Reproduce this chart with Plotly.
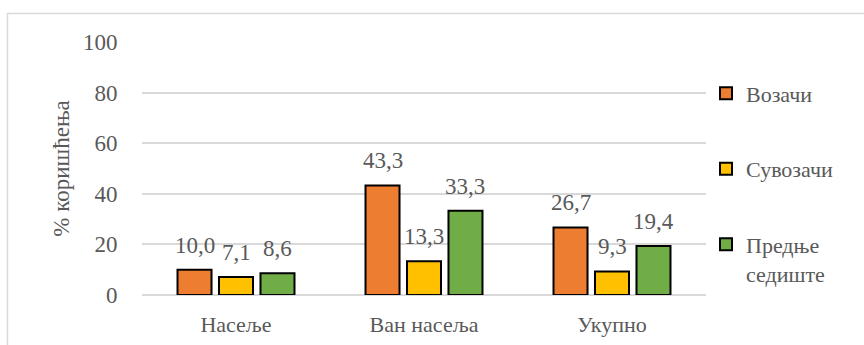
import plotly.graph_objects as go

categories = ["Насеље", "Ван насеља", "Укупно"]
series_names = ["Возачи", "Сувозачи", "Предње<br>седиште"]
vozaci = [10.0, 43.3, 26.7]
suvozaci = [7.1, 13.3, 9.3]
prednje = [8.6, 33.3, 19.4]
y_ticks = [0, 20, 40, 60, 80, 100]

series_values = [vozaci, suvozaci, prednje]
colors = ["#ED7D31", "#FFC000", "#70AD47"]

FONT = "Liberation Serif, Times New Roman, serif"
TEXT_COLOR = "#595959"
GRID = "#d9d9d9"
BARGAP = 0.338
GROUPGAP = 0.18

def fmt(v):
    return f"{v:.1f}".replace(".", ",")

fig = go.Figure()
for i, (name, vals, col) in enumerate(zip(series_names, series_values, colors)):
    fig.add_trace(go.Bar(
        x=categories, y=vals, name=name,
        marker=dict(color=col, line=dict(color="#000000", width=2)),
        legendgroup=f"g{i}",
    ))

# value labels above each bar, positioned from the same values
n = len(series_values)
slot = (1 - BARGAP) / n
annotations = []
for i, vals in enumerate(series_values):
    for j, v in enumerate(vals):
        annotations.append(dict(
            x=j + (i - (n - 1) / 2) * slot, y=v, xref="x", yref="y",
            text=fmt(v), showarrow=False, yanchor="bottom",
            yshift=10, font=dict(family=FONT, size=23, color=TEXT_COLOR),
        ))

fig.update_layout(
    width=864, height=345,
    margin=dict(l=142, r=158, t=42, b=50),
    paper_bgcolor="white", plot_bgcolor="white",
    barmode="group", bargap=BARGAP, bargroupgap=GROUPGAP,
    font=dict(family=FONT, size=22, color=TEXT_COLOR),
    annotations=annotations,
    legend=dict(
        x=1.0, xanchor="left", y=0.88, yanchor="top",
        font=dict(family=FONT, size=22, color=TEXT_COLOR),
        tracegroupgap=44, valign="top", itemwidth=30,
        bgcolor="rgba(0,0,0,0)",
    ),
    shapes=[dict(
        type="rect", xref="paper", yref="paper",
        x0=-0.2385, x1=1.3, y0=-0.5, y1=1.1126,
        line=dict(color="#d9d9d9", width=1.5), fillcolor="rgba(0,0,0,0)",
        layer="below",
    )],
)
fig.update_xaxes(
    type="category", showgrid=False, showline=False, zeroline=False,
    automargin=False,
    ticks="outside", ticklen=10, tickcolor="rgba(0,0,0,0)",
    tickfont=dict(family=FONT, size=22, color=TEXT_COLOR),
)
fig.update_yaxes(
    range=[0, 100], tickvals=y_ticks, showgrid=True, gridcolor=GRID, gridwidth=1.5,
    zeroline=True, zerolinecolor=GRID, zerolinewidth=1.5, showline=False,
    automargin=False,
    ticks="outside", ticklen=19, tickcolor="rgba(0,0,0,0)",
    tickfont=dict(family=FONT, size=23, color=TEXT_COLOR),
    title=dict(text="% коришћења", font=dict(family=FONT, size=23, color=TEXT_COLOR), standoff=6),
)

fig.write_html("out.html")
